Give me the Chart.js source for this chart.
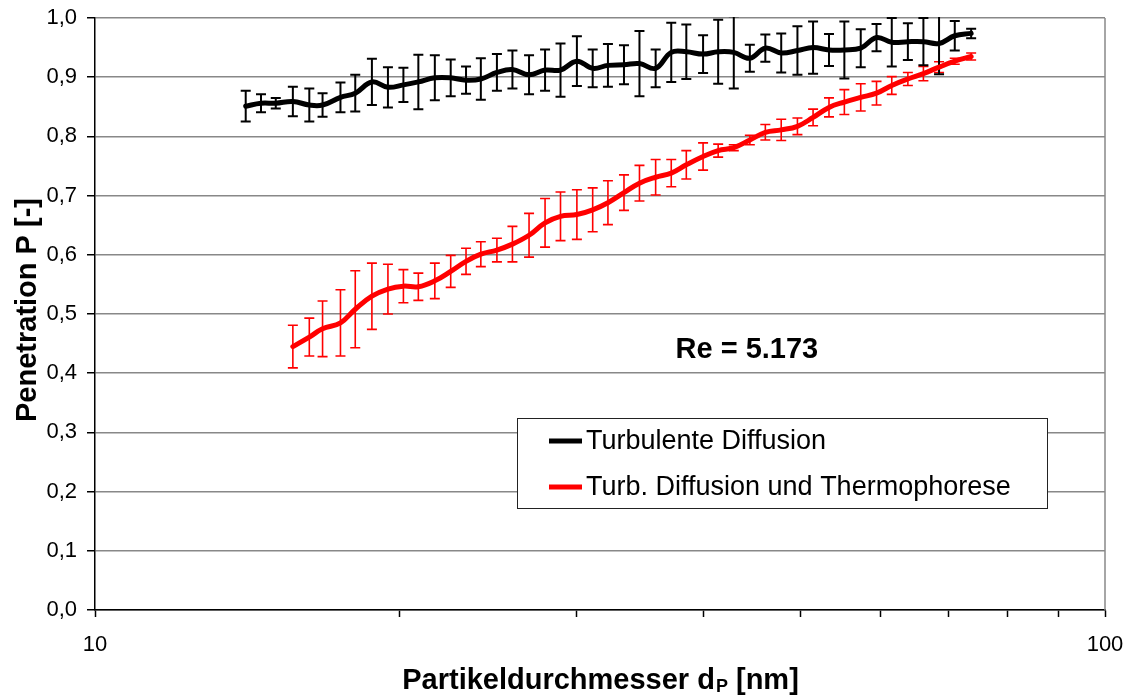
<!DOCTYPE html>
<html>
<head>
<meta charset="utf-8">
<script src="https://cdn.jsdelivr.net/npm/chart.js@4"></script>
<style>
  html, body { margin: 0; padding: 0; background: #fff; }
</style>
</head>
<body>
<canvas id="penChart" width="1131" height="698"></canvas>
<script>
// SMPS channel diameters in nm (64 channels per decade)
const diameters = [14.1, 14.6, 15.1, 15.7, 16.3, 16.8, 17.5, 18.1, 18.8, 19.5, 20.2, 20.9, 21.7, 22.5, 23.3, 24.1,
  25.0, 25.9, 26.9, 27.9, 28.9, 30.0, 31.1, 32.2, 33.4, 34.6, 35.9, 37.2, 38.5, 40.0, 41.4, 42.9, 44.5, 46.1,
  47.8, 49.6, 51.4, 53.3, 55.2, 57.3, 59.4, 61.5, 63.8, 66.1, 68.5, 71.0, 73.7];

// Turbulente Diffusion: penetration and half error bar
const turbMean = [0.851, 0.856, 0.856, 0.859, 0.853, 0.853, 0.866, 0.873, 0.892, 0.883, 0.887, 0.892, 0.899, 0.899,
  0.895, 0.897, 0.908, 0.913, 0.904, 0.912, 0.912, 0.927, 0.915, 0.920, 0.921, 0.923, 0.915, 0.942, 0.943, 0.939,
  0.943, 0.942, 0.932, 0.949, 0.941, 0.945, 0.950, 0.946, 0.946, 0.949, 0.967, 0.959, 0.960, 0.960, 0.957, 0.970, 0.974];
const turbErr = [0.026, 0.015, 0.009, 0.025, 0.028, 0.020, 0.025, 0.031, 0.039, 0.034, 0.029, 0.046, 0.038, 0.031,
  0.023, 0.035, 0.031, 0.032, 0.033, 0.035, 0.045, 0.042, 0.032, 0.036, 0.033, 0.055, 0.032, 0.050, 0.046, 0.032,
  0.054, 0.061, 0.023, 0.023, 0.033, 0.041, 0.044, 0.027, 0.048, 0.032, 0.023, 0.041, 0.031, 0.040, 0.052, 0.025, 0.008];

// Turb. Diffusion und Thermophorese (starts at the 4th channel)
const thermoDiameters = diameters.slice(3);
const thermoMean = [0.445, 0.461, 0.475, 0.485, 0.508, 0.530, 0.542, 0.547, 0.546, 0.556, 0.572, 0.589, 0.601, 0.608,
  0.618, 0.633, 0.654, 0.665, 0.668, 0.676, 0.688, 0.705, 0.721, 0.731, 0.738, 0.752, 0.766, 0.776, 0.781, 0.794,
  0.807, 0.811, 0.817, 0.832, 0.849, 0.858, 0.866, 0.873, 0.886, 0.897, 0.906, 0.917, 0.927, 0.935];
const thermoErr = [0.036, 0.032, 0.047, 0.056, 0.065, 0.056, 0.042, 0.028, 0.023, 0.030, 0.027, 0.022, 0.021, 0.020,
  0.030, 0.037, 0.041, 0.041, 0.042, 0.037, 0.037, 0.030, 0.030, 0.030, 0.023, 0.024, 0.023, 0.011, 0.005, 0.008,
  0.013, 0.018, 0.014, 0.014, 0.016, 0.021, 0.023, 0.020, 0.015, 0.011, 0.012, 0.009, 0.005, 0.006];

const seriesLabels = ['Turbulente Diffusion', 'Turb. Diffusion und Thermophorese'];
const xTickValues = [10, 20, 30, 40, 50, 60, 70, 80, 90, 100];
const xLabelTicks = [10, 100];
const reText = 'Re = 5.173';
const rePos = { x: 44.2, y: 0.425 };

const FONT = '"Liberation Sans", Arial, Helvetica, sans-serif';

function toPoints(xs, ys) {
  return xs.map((x, i) => ({ x: x, y: ys[i] }));
}

// vertical error bars with caps, drawn under the lines
const errorBars = {
  id: 'errorBars',
  beforeDatasetsDraw(chart) {
    const { ctx, chartArea, scales } = chart;
    ctx.save();
    ctx.beginPath();
    ctx.rect(chartArea.left, chartArea.top - 1, chartArea.right - chartArea.left, chartArea.bottom - chartArea.top + 1);
    ctx.clip();
    for (let di = chart.data.datasets.length - 1; di >= 0; di--) {
      const ds = chart.data.datasets[di];
      const meta = chart.getDatasetMeta(di);
      ctx.strokeStyle = ds.borderColor;
      ctx.lineWidth = ds.errWidth;
      meta.data.forEach((pt, i) => {
        const v = ds.data[i].y;
        const e = ds.errors[i];
        const top = scales.y.getPixelForValue(v + e);
        const bot = scales.y.getPixelForValue(v - e);
        ctx.beginPath();
        ctx.moveTo(pt.x, top); ctx.lineTo(pt.x, bot);
        ctx.moveTo(pt.x - 5, top); ctx.lineTo(pt.x + 5, top);
        ctx.moveTo(pt.x - 5, bot); ctx.lineTo(pt.x + 5, bot);
        ctx.stroke();
      });
    }
    ctx.restore();

    // right frame edge
    ctx.save();
    ctx.strokeStyle = '#888';
    ctx.lineWidth = 1.5;
    ctx.beginPath();
    ctx.moveTo(chartArea.right, chartArea.top);
    ctx.lineTo(chartArea.right, chartArea.bottom);
    ctx.stroke();
    ctx.restore();
  }
};

// axis titles, legend box and Reynolds number
const decorations = {
  id: 'decorations',
  afterDraw(chart) {
    const { ctx, chartArea, scales } = chart;
    ctx.save();
    ctx.fillStyle = '#000';

    // x title with subscript P
    const big = 'bold 29px ' + FONT;
    const small = 'bold 18px ' + FONT;
    const partA = 'Partikeldurchmesser d';
    const partB = 'P';
    const partC = ' [nm]';
    ctx.font = big;
    const wA = ctx.measureText(partA).width;
    const wC = ctx.measureText(partC).width;
    ctx.font = small;
    const wB = ctx.measureText(partB).width;
    let x0 = (chartArea.left + chartArea.right) / 2 - (wA + wB + wC) / 2;
    const base = 689;
    ctx.textAlign = 'left';
    ctx.textBaseline = 'alphabetic';
    ctx.font = big;
    ctx.fillText(partA, x0, base);
    ctx.font = small;
    ctx.fillText(partB, x0 + wA + 1, base + 3);
    ctx.font = big;
    ctx.fillText(partC, x0 + wA + wB + 1, base);

    // y title
    ctx.save();
    ctx.translate(36, 310);
    ctx.rotate(-Math.PI / 2);
    ctx.textAlign = 'center';
    ctx.font = big;
    ctx.fillText('Penetration P [-]', 0, 0);
    ctx.restore();

    // Re annotation
    ctx.font = 'bold 29px ' + FONT;
    ctx.textAlign = 'center';
    ctx.fillText(reText, scales.x.getPixelForValue(rePos.x), scales.y.getPixelForValue(rePos.y));

    // legend
    const lx = 517.5, ly = 418.5, lw = 530, lh = 90;
    ctx.fillStyle = '#fff';
    ctx.fillRect(lx, ly, lw, lh);
    ctx.strokeStyle = '#222';
    ctx.lineWidth = 1;
    ctx.strokeRect(lx, ly, lw, lh);
    ctx.font = '27px ' + FONT;
    ctx.textAlign = 'left';
    ctx.textBaseline = 'middle';
    chart.data.datasets.forEach((ds, i) => {
      const cy = 441 + i * 46;
      ctx.strokeStyle = ds.borderColor;
      ctx.lineWidth = 5;
      ctx.beginPath();
      ctx.moveTo(549, cy);
      ctx.lineTo(582, cy);
      ctx.stroke();
      ctx.fillStyle = '#000';
      ctx.fillText(ds.label, 586, cy + 1);
    });
    ctx.restore();
  }
};

new Chart(document.getElementById('penChart'), {
  type: 'line',
  data: {
    datasets: [
      {
        label: seriesLabels[0],
        data: toPoints(diameters, turbMean),
        errors: turbErr,
        errWidth: 2,
        borderColor: '#000000',
        borderWidth: 5,
        pointRadius: 0,
        tension: 0.4,
        borderCapStyle: 'round',
        fill: false
      },
      {
        label: seriesLabels[1],
        data: toPoints(thermoDiameters, thermoMean),
        errors: thermoErr,
        errWidth: 1.6,
        borderColor: '#ff0000',
        borderWidth: 5,
        pointRadius: 0,
        tension: 0.4,
        borderCapStyle: 'round',
        fill: false
      }
    ]
  },
  options: {
    responsive: false,
    devicePixelRatio: 1,
    animation: false,
    layout: { padding: { top: 18, right: 26, left: 0, bottom: 0 } },
    plugins: {
      legend: { display: false },
      tooltip: { enabled: false }
    },
    scales: {
      x: {
        type: 'logarithmic',
        min: 10,
        max: 100,
        afterFit: scale => {
          scale.height = 88;
          scale.paddingLeft = 0;
          scale.paddingRight = 0;
        },
        afterBuildTicks: scale => { scale.ticks = xTickValues.map(v => ({ value: v })); },
        grid: {
          drawOnChartArea: false,
          tickLength: 7,
          tickColor: '#000',
          tickWidth: 1.5
        },
        border: { color: '#000', width: 1.5 },
        ticks: {
          autoSkip: false,
          maxRotation: 0,
          padding: 15,
          color: '#000',
          font: { family: FONT, size: 22 },
          callback: value => xLabelTicks.includes(value) ? String(value) : ''
        }
      },
      y: {
        min: 0,
        max: 1,
        afterFit: scale => {
          scale.width = 95;
          scale.paddingTop = 0;
          scale.paddingBottom = 0;
        },
        grid: {
          color: '#888',
          lineWidth: 1.5,
          tickLength: 8,
          tickColor: '#000',
          tickWidth: 1.5
        },
        border: { color: '#000', width: 1.5 },
        ticks: {
          stepSize: 0.1,
          padding: 10,
          color: '#000',
          font: { family: FONT, size: 22 },
          callback: value => value.toFixed(1).replace('.', ',')
        }
      }
    }
  },
  plugins: [errorBars, decorations]
});
</script>
</body>
</html>
